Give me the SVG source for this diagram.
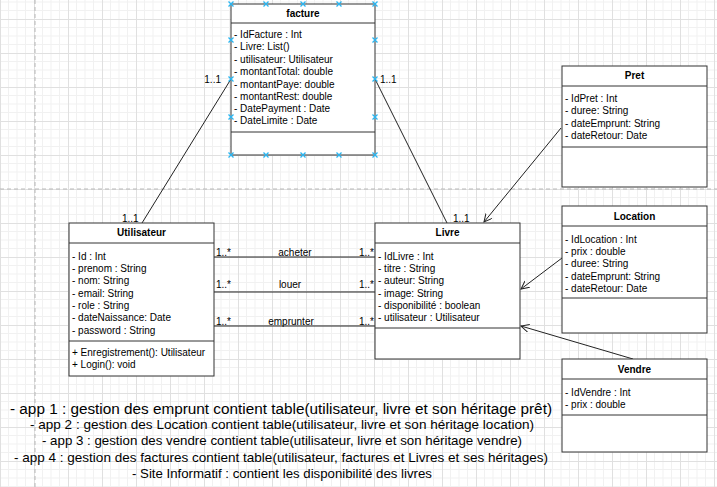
<svg xmlns="http://www.w3.org/2000/svg" xmlns:xlink="http://www.w3.org/1999/xlink" width="717" height="487" viewBox="0 0 717 487">
<style>
.box{fill:#fff;stroke:#333;stroke-width:1}
.ln{stroke:#333;stroke-width:1;fill:none}
.t{font-family:"Liberation Sans",Arial,sans-serif;font-size:10px;fill:#000}
.h{font-family:"Liberation Sans",Arial,sans-serif;font-size:10px;font-weight:bold;fill:#000;text-anchor:middle}
.c{stroke:#222;stroke-width:1;fill:none}
.lbl{font-family:"Liberation Sans",Arial,sans-serif;font-size:10px;fill:#000}
.note{font-family:"Liberation Sans",Arial,sans-serif;font-size:13.4px;fill:#000;text-anchor:middle}
.pg{stroke:#b8b8b8;stroke-width:1;stroke-dasharray:4 3}
</style>
<defs>
<pattern id="grid" width="34" height="34" patternUnits="userSpaceOnUse" x="0" y="19">
<path d="M8.5 0V34M17 0V34M25.5 0V34M0 8.5H34M0 17H34M0 25.5H34" stroke="#f1f1f1" stroke-width="1" fill="none"/>
<path d="M0.5 0V34M0 0.5H34" stroke="#e0e0e0" stroke-width="1" fill="none"/>
</pattern>
<marker id="arr" markerWidth="10" markerHeight="10" refX="8" refY="4" orient="auto" markerUnits="userSpaceOnUse">
<path d="M0,0 L8,4 L0,8" fill="none" stroke="#222" stroke-width="1"/>
</marker>
<path id="hx" d="M-2.5,-2.5L2.5,2.5M-2.5,2.5L2.5,-2.5" stroke="#29b6f2" stroke-width="1.3" fill="none"/>
</defs>
<rect width="717" height="487" fill="#fff"/>
<rect width="717" height="487" fill="url(#grid)"/>
<line class="pg" x1="35" y1="0" x2="35" y2="487"/>
<line class="pg" x1="0" y1="189" x2="717" y2="189"/>

<g id="connectors">
<line class="c" x1="142" y1="223" x2="231" y2="79"/>
<text class="lbl" x="221" y="82.5" text-anchor="end">1..1</text>
<text class="lbl" x="122" y="222">1..1</text>
<line class="c" x1="375" y1="79" x2="447" y2="223"/>
<text class="lbl" x="380" y="82.5">1..1</text>
<text class="lbl" x="453" y="222">1..1</text>
<line class="c" x1="561" y1="128" x2="484" y2="222" marker-end="url(#arr)"/>
<line class="c" x1="562" y1="258" x2="521" y2="289" marker-end="url(#arr)"/>
<line class="c" x1="633" y1="359" x2="521" y2="326" marker-end="url(#arr)"/>
<line class="c" x1="214" y1="257" x2="375" y2="257"/>
<text class="lbl" x="216" y="256">1..*</text>
<text class="lbl" x="295" y="256" text-anchor="middle">acheter</text>
<text class="lbl" x="374" y="256" text-anchor="end">1..*</text>
<line class="c" x1="214" y1="292" x2="375" y2="292"/>
<text class="lbl" x="216" y="288">1..*</text>
<text class="lbl" x="290" y="288" text-anchor="middle">louer</text>
<text class="lbl" x="374" y="288" text-anchor="end">1..*</text>
<line class="c" x1="214" y1="326" x2="375" y2="326"/>
<text class="lbl" x="216" y="324.5">1..*</text>
<text class="lbl" x="291" y="324.5" text-anchor="middle">emprunter</text>
<text class="lbl" x="374" y="324.5" text-anchor="end">1..*</text>
</g>

<g id="facture">
<rect class="box" x="231" y="4" width="144" height="151"/>
<line class="ln" x1="231" y1="23" x2="375" y2="23"/>
<line class="ln" x1="231" y1="132" x2="375" y2="132"/>
<text class="h" x="303" y="17">facture</text>
<text class="t" x="234" y="37.5">- IdFacture : Int</text>
<text class="t" x="234" y="50">- Livre: List()</text>
<text class="t" x="234" y="62.5">- utilisateur: Utilisateur</text>
<text class="t" x="234" y="75">- montantTotal: double</text>
<text class="t" x="234" y="87.5">- montantPaye: double</text>
<text class="t" x="234" y="99.5">- montantRest: double</text>
<text class="t" x="234" y="112">- DatePayment : Date</text>
<text class="t" x="234" y="124">- DateLimite : Date</text>
<g>
<use xlink:href="#hx" x="231" y="4"/><use xlink:href="#hx" x="266" y="4"/><use xlink:href="#hx" x="303" y="4"/><use xlink:href="#hx" x="339" y="4"/><use xlink:href="#hx" x="375" y="4"/>
<use xlink:href="#hx" x="231" y="155"/><use xlink:href="#hx" x="266" y="155"/><use xlink:href="#hx" x="303" y="155"/><use xlink:href="#hx" x="339" y="155"/><use xlink:href="#hx" x="375" y="155"/>
<use xlink:href="#hx" x="231" y="40"/><use xlink:href="#hx" x="231" y="79"/><use xlink:href="#hx" x="231" y="117"/>
<use xlink:href="#hx" x="375" y="40"/><use xlink:href="#hx" x="375" y="79"/><use xlink:href="#hx" x="375" y="117"/>
</g>
</g>

<g id="pret">
<rect class="box" x="562" y="66" width="145" height="121"/>
<line class="ln" x1="562" y1="86" x2="707" y2="86"/>
<line class="ln" x1="562" y1="147" x2="707" y2="147"/>
<text class="h" x="634.5" y="79">Pret</text>
<text class="t" x="565" y="101.5">- IdPret : Int</text>
<text class="t" x="565" y="114">- duree: String</text>
<text class="t" x="565" y="126.5">- dateEmprunt: String</text>
<text class="t" x="565" y="139">- dateRetour: Date</text>
</g>

<g id="utilisateur">
<rect class="box" x="69" y="223" width="145" height="153"/>
<line class="ln" x1="69" y1="243" x2="214" y2="243"/>
<line class="ln" x1="69" y1="341" x2="214" y2="341"/>
<text class="h" x="141.5" y="236">Utilisateur</text>
<text class="t" x="72" y="259.5">- Id : Int</text>
<text class="t" x="72" y="271.5">- prenom : String</text>
<text class="t" x="72" y="284">- nom: String</text>
<text class="t" x="72" y="296.5">- email: String</text>
<text class="t" x="72" y="308.5">- role : String</text>
<text class="t" x="72" y="321">- dateNaissance: Date</text>
<text class="t" x="72" y="333.5">- password : String</text>
<text class="t" x="72" y="355.5">+ Enregistrement(): Utilisateur</text>
<text class="t" x="72" y="367.5">+ Login(): void</text>
</g>

<g id="livre">
<rect class="box" x="375" y="223" width="145" height="136"/>
<line class="ln" x1="375" y1="243" x2="520" y2="243"/>
<line class="ln" x1="375" y1="328" x2="520" y2="328"/>
<text class="h" x="447.5" y="236">Livre</text>
<text class="t" x="378" y="259.5">- IdLivre : Int</text>
<text class="t" x="378" y="271.5">- titre : String</text>
<text class="t" x="378" y="284">- auteur: String</text>
<text class="t" x="378" y="296.5">- image: String</text>
<text class="t" x="378" y="308.5">- disponibilité : boolean</text>
<text class="t" x="378" y="320.5">- utilisateur : Utilisateur</text>
</g>

<g id="location">
<rect class="box" x="562" y="206" width="145" height="127"/>
<line class="ln" x1="562" y1="226" x2="707" y2="226"/>
<line class="ln" x1="562" y1="298" x2="707" y2="298"/>
<text class="h" x="634.5" y="219.5">Location</text>
<text class="t" x="565" y="242.5">- IdLocation : Int</text>
<text class="t" x="565" y="254.5">- prix : double</text>
<text class="t" x="565" y="266.5">- duree: String</text>
<text class="t" x="565" y="279.5">- dateEmprunt: String</text>
<text class="t" x="565" y="291.5">- dateRetour: Date</text>
</g>

<g id="vendre">
<rect class="box" x="562" y="359" width="145" height="93"/>
<line class="ln" x1="562" y1="379" x2="707" y2="379"/>
<line class="ln" x1="562" y1="415" x2="707" y2="415"/>
<text class="h" x="634.5" y="372.5">Vendre</text>
<text class="t" x="565" y="395.5">- IdVendre : Int</text>
<text class="t" x="565" y="407.5">- prix : double</text>
</g>

<g id="notes">
<text class="note" x="281" y="413.5" style="font-size:15.3px" textLength="542" lengthAdjust="spacingAndGlyphs">- app 1 : gestion des emprunt contient table(utilisateur, livre et son héritage prêt)</text>
<text class="note" x="282" y="429" textLength="504" lengthAdjust="spacingAndGlyphs">- app 2 : gestion des Location contient table(utilisateur, livre et son héritage location)</text>
<text class="note" x="282" y="445" textLength="480" lengthAdjust="spacingAndGlyphs">- app 3 : gestion des vendre contient table(utilisateur, livre et son héritage vendre)</text>
<text class="note" x="281" y="462" textLength="534" lengthAdjust="spacingAndGlyphs">- app 4 : gestion des factures contient table(utilisateur, factures et Livres et ses héritages)</text>
<text class="note" x="282" y="478" textLength="300" lengthAdjust="spacingAndGlyphs">- Site Informatif : contient les disponibilité des livres</text>
</g>
</svg>
